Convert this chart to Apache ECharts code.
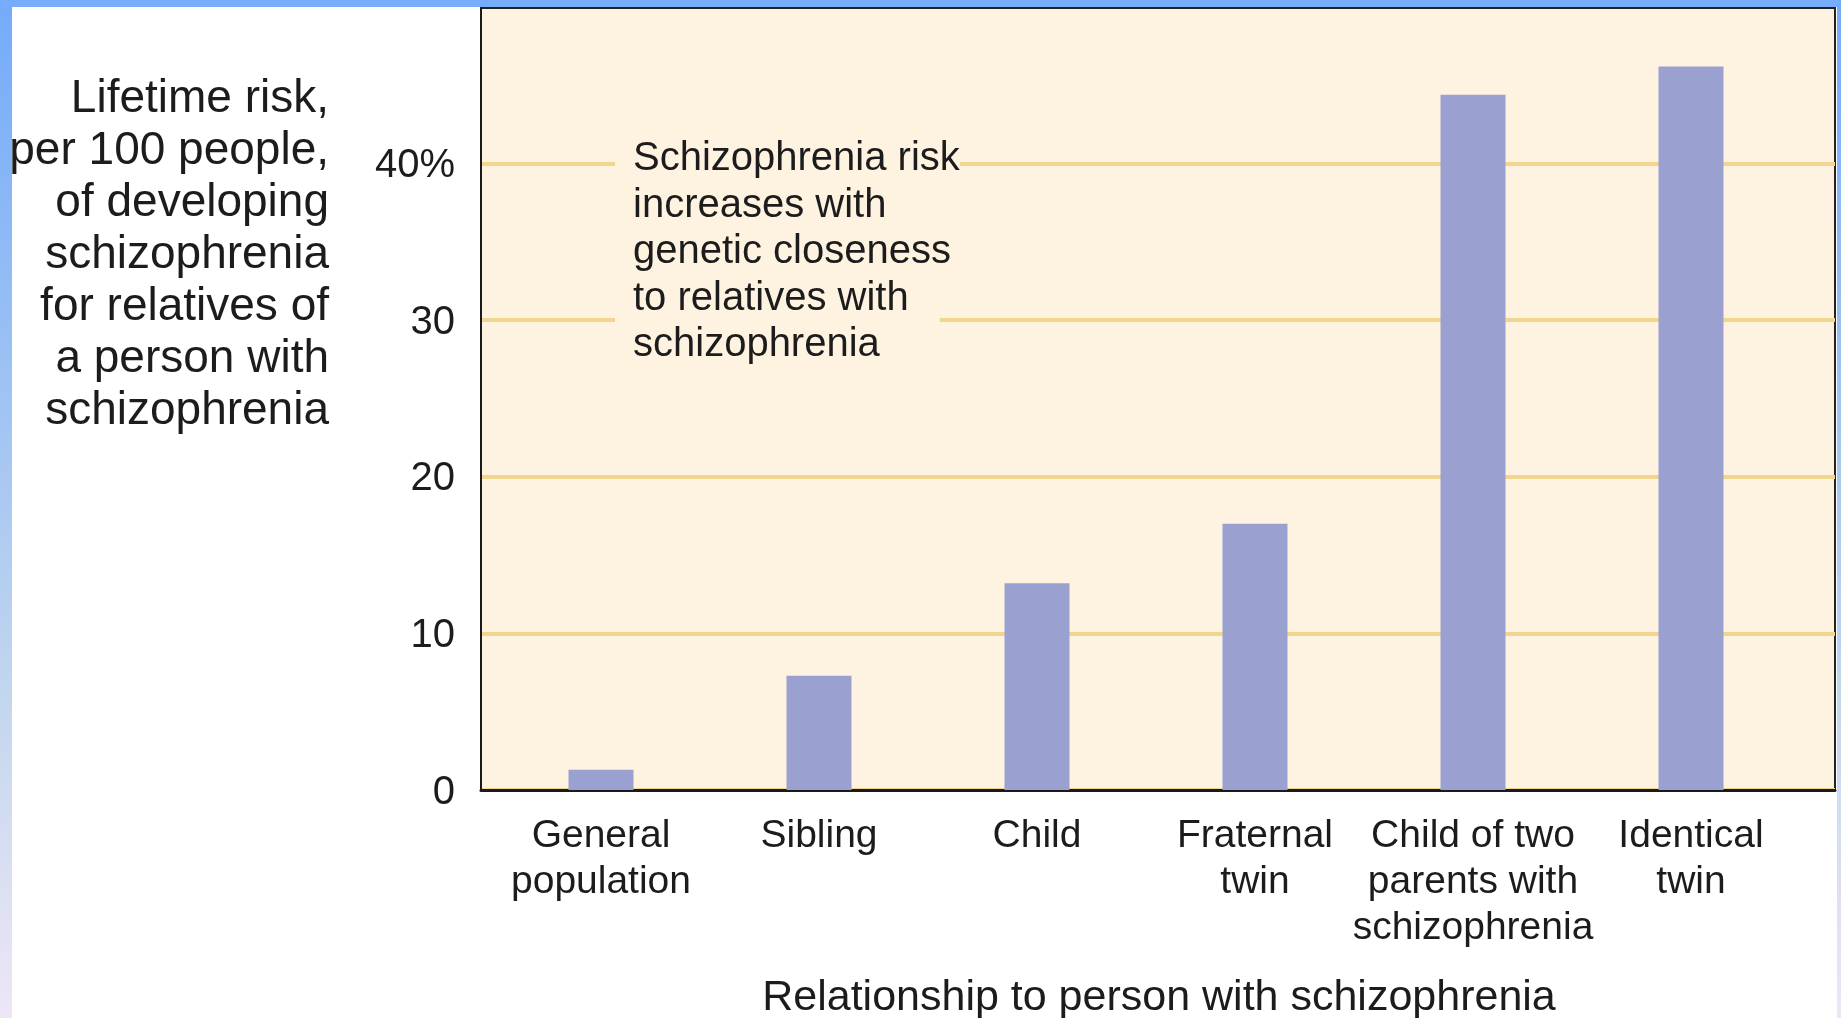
<!DOCTYPE html>
<html>
<head>
<meta charset="utf-8">
<script src="https://cdn.jsdelivr.net/npm/echarts@6/dist/echarts.min.js"></script>
<style>
html,body{margin:0;padding:0;background:#fff;}
#chart{width:1841px;height:1018px;}
</style>
</head>
<body>
<div id="chart"></div>
<script>
var categories = ['General\npopulation', 'Sibling', 'Child', 'Fraternal\ntwin', 'Child of two\nparents with\nschizophrenia', 'Identical\ntwin'];
var riskValues = [1.3, 7.3, 13.2, 17.0, 44.4, 46.2];
var yTickValues = [0, 10, 20, 30, 40];
var yTickLabels = ['0', '10', '20', '30', '40%'];
var yAxisTitle = 'Lifetime risk,\nper 100 people,\nof developing\nschizophrenia\nfor relatives of\na person with\nschizophrenia';
var xAxisTitle = 'Relationship to person with schizophrenia';
var noteLines = ['Schizophrenia risk', 'increases with', 'genetic closeness', 'to relatives with', 'schizophrenia'];

var FONT = '"Liberation Sans", Arial, Helvetica, sans-serif';
var TXT = '#1c1c1c';
var CREAM = '#FEF3E1';
var GRIDC = '#F2D58E';

var chart = echarts.init(document.getElementById('chart'), null, {renderer: 'canvas'});

var option = {
  backgroundColor: '#ffffff',
  animation: false,
  grid: [
    {left: 481, right: 6, top: 7, bottom: 228, show: true, backgroundColor: CREAM, borderColor: '#222', borderWidth: 2, containLabel: false},
    {left: 492, right: 41, top: 7, bottom: 228, containLabel: false}
  ],
  xAxis: [
    {gridIndex: 0, type: 'value', min: 0, max: 1, axisLine: {show: true, lineStyle: {color: '#1a1a1a', width: 3}},
     axisTick: {show: false}, axisLabel: {show: false}, splitLine: {show: false}},
    {gridIndex: 1, type: 'category', data: categories, axisLine: {show: false}, axisTick: {show: false},
     axisLabel: {margin: 23, fontFamily: FONT, fontSize: 39, lineHeight: 46, color: TXT, interval: 0, align: 'center'}}
  ],
  yAxis: [
    {gridIndex: 0, type: 'value', min: 0, max: 50, interval: 10,
     axisLine: {show: true, lineStyle: {color: '#1a1a1a', width: 2}}, axisTick: {show: false},
     axisLabel: {margin: 26, fontFamily: FONT, fontSize: 40, color: TXT, verticalAlign: 'top', lineHeight: 5,
       formatter: function (v) { var i = yTickValues.indexOf(v); return i >= 0 ? yTickLabels[i] : ''; }},
     splitLine: {show: true, lineStyle: {color: [GRIDC, GRIDC, GRIDC, GRIDC, GRIDC, '#222'], width: 4}}},
    {gridIndex: 1, type: 'value', min: 0, max: 50, interval: 10, show: false, splitLine: {show: false}}
  ],
  series: [
    {type: 'bar', xAxisIndex: 1, yAxisIndex: 1, data: riskValues, barWidth: 65,
     itemStyle: {color: '#9AA1D0'}, z: 3}
  ],
  graphic: [
    {type: 'text', x: 329, y: 73, z: 10,
     style: {text: yAxisTitle, fontFamily: FONT, fontSize: 46, lineHeight: 52, fill: TXT, textAlign: 'right', textVerticalAlign: 'top'}},
    {type: 'text', x: 1159, y: 998, z: 10,
     style: {text: xAxisTitle, fontFamily: FONT, fontSize: 43, fill: TXT, textAlign: 'center', textVerticalAlign: 'middle'}},
    {type: 'text', x: 615, y: 136, z: 10,
     style: {
       text: '{a|' + noteLines[0] + '}\n{b|' + noteLines[1] + '}\n{b|' + noteLines[2] + '}\n{d|' + noteLines[3] + '}\n{e|' + noteLines[4] + '}',
       fontFamily: FONT, fontSize: 40, lineHeight: 46.5, fill: TXT, textAlign: 'left', textVerticalAlign: 'top',
       rich: {
         a: {fontFamily: FONT, fontSize: 40, lineHeight: 46.5, height: 48, color: TXT, backgroundColor: CREAM, padding: [0, 0, 0, 18]},
         b: {fontFamily: FONT, fontSize: 40, lineHeight: 46.5, color: TXT, padding: [0, 0, 0, 18]},
         d: {fontFamily: FONT, fontSize: 40, lineHeight: 46.5, height: 48, color: TXT, backgroundColor: CREAM, padding: [0, 31, 0, 18]},
         e: {fontFamily: FONT, fontSize: 40, lineHeight: 46.5, height: 48, color: TXT, backgroundColor: CREAM, padding: [0, 58, 0, 18]}
       }
     }},
    {type: 'rect', z: 20, shape: {x: 0, y: 0, width: 12, height: 1018},
     style: {fill: new echarts.graphic.LinearGradient(0, 0, 0, 1, [
       {offset: 0, color: '#74ABFA'}, {offset: 0.45, color: '#A6C7F2'},
       {offset: 0.7, color: '#C4D7EE'}, {offset: 1, color: '#EEE6F6'}])}},
    {type: 'rect', z: 20, shape: {x: 0, y: 0, width: 1841, height: 7}, style: {fill: '#75ADFB'}},
    {type: 'rect', z: 20, shape: {x: 1837, y: 0, width: 4, height: 1018},
     style: {fill: new echarts.graphic.LinearGradient(0, 0, 0, 1, [
       {offset: 0, color: '#74ABFA'}, {offset: 0.45, color: '#A6C7F2'},
       {offset: 0.7, color: '#C4D7EE'}, {offset: 1, color: '#EEE6F6'}])}}
  ]
};
chart.setOption(option);
</script>
</body>
</html>
